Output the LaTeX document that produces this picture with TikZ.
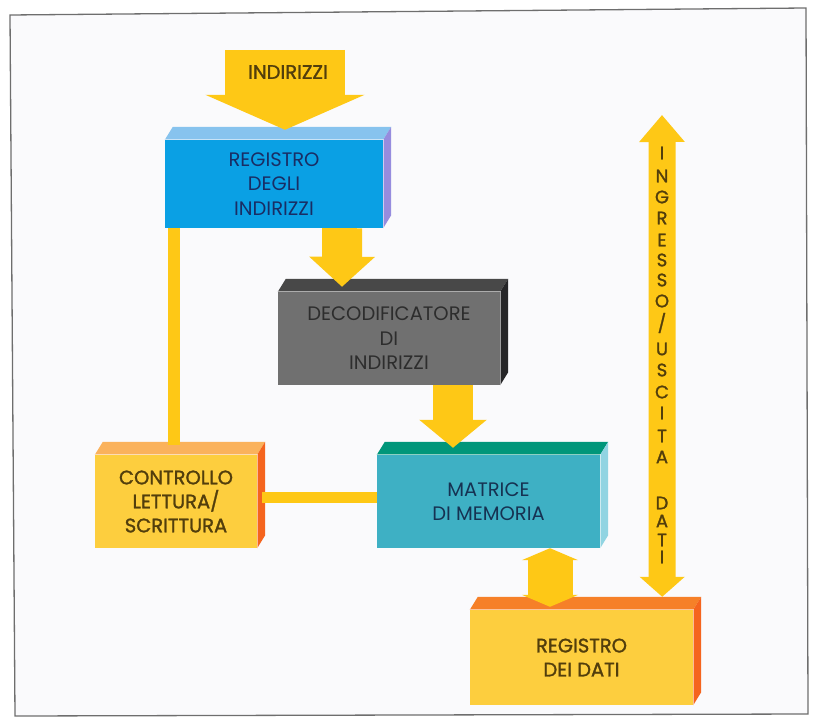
\documentclass[tikz,border=0pt]{standalone}
\usepackage{fontspec}
\setmainfont{Poppins}
\newfontfamily\heavyfont{Poppins}[FakeBold=1.4]
\usetikzlibrary{arrows.meta, calc}

\definecolor{paper}{RGB}{250,250,252}
\definecolor{framegray}{RGB}{110,110,110}
\definecolor{flowyellow}{RGB}{254,200,22}
\definecolor{regfront}{RGB}{10,160,228}
\definecolor{regtop}{RGB}{135,195,238}
\definecolor{regside}{RGB}{150,140,222}
\definecolor{regtext}{RGB}{25,45,100}
\definecolor{decfront}{RGB}{112,112,112}
\definecolor{dectop}{RGB}{72,72,72}
\definecolor{decside}{RGB}{38,38,40}
\definecolor{dectext}{RGB}{45,45,45}
\definecolor{matfront}{RGB}{62,176,196}
\definecolor{mattop}{RGB}{0,150,122}
\definecolor{matside}{RGB}{145,212,226}
\definecolor{mattext}{RGB}{22,50,82}
\definecolor{yelfront}{RGB}{253,206,62}
\definecolor{ctltop}{RGB}{250,178,92}
\definecolor{dattop}{RGB}{246,128,40}
\definecolor{redside}{RGB}{245,100,30}
\definecolor{yeltext}{RGB}{82,62,12}

\begin{document}
\begin{tikzpicture}[
      x=1pt, y=-1pt,
      blockface/.style={rectangle, inner sep=0pt, align=center, font=\fontsize{19.5}{24.5}\selectfont},
      regbox/.style={blockface, fill=regfront, text=regtext, minimum width=218pt, minimum height=88pt},
      decbox/.style={blockface, fill=decfront, text=dectext, minimum width=222pt, minimum height=93pt},
      matbox/.style={blockface, fill=matfront, text=mattext, minimum width=223pt, minimum height=93pt},
      yelbox/.style={blockface, fill=yelfront, text=yeltext, font=\heavyfont\fontsize{19.5}{24}\selectfont},
      flow/.style={draw=flowyellow, line cap=butt},
      letter/.style={text=yeltext, inner sep=0pt, font=\heavyfont\fontsize{18}{18}\selectfont}
  ]
      \useasboundingbox (0,0) rectangle (813,719);
      % Frame
      \filldraw[fill=paper, draw=framegray, line width=1.3pt] (10,15) -- (806,8) -- (808,714) -- (15,716) -- cycle;

      % Blocks
      \node[regbox] (reg) at (274,184) {REGISTRO\\DEGLI\\INDIRIZZI};
      \node[decbox] (dec) at (389,338.5) {DECODIFICATORE\\DI\\INDIRIZZI};
      \node[matbox] (mat) at (488.5,501.5) {MATRICE\\DI MEMORIA};
      \node[yelbox, minimum width=162pt, minimum height=93pt] (ctl) at (176,501.5) {CONTROLLO\\LETTURA/\\SCRITTURA};
      \node[yelbox, minimum width=223pt, minimum height=95pt] (dat) at (581.5,657.5) {REGISTRO\\DEI DATI};

      % Top and side faces
      \foreach \n/\t/\s in {reg/regtop/regside, dec/dectop/decside, mat/mattop/matside, ctl/ctltop/redside, dat/dattop/redside} {
        \fill[\t] (\n.north west) -- ++(8,-13) -- ($(\n.north east)+(8,-13)$) -- (\n.north east) -- cycle;
        \fill[\s] (\n.north east) -- ++(8,-13) -- ($(\n.south east)+(8,-13)$) -- (\n.south east) -- cycle;
        \draw[white, opacity=0.55, line width=1.2pt] (\n.north west) -- (\n.north east) -- (\n.south east);
      }

      % Address input
      \coordinate (addrin) at (285,50);
      \draw[flow, line width=120pt, -{Triangle[width=158pt, length=35pt]}] (addrin) -- ($(reg.north)+(11,-10)$);
      \node[text=yeltext, font=\heavyfont\fontsize{19.5}{19.5}\selectfont] (addrlabel) at (288,72) {INDIRIZZI};

      % Address path
      \draw[flow, line width=40pt, -{Triangle[width=64pt, length=30pt]}] ($(reg.south east)+(-41,0)$) -- ($(dec.north)+(-47,-5)$);
      \draw[flow, line width=40pt, -{Triangle[width=66pt, length=28pt]}] ($(dec.south)+(64,0)$) -- ($(mat.north)+(-35.5,-7)$);

      % Control lines
      \draw[flow, line width=12pt] ($(ctl.north west)+(79,-10)$) -- ($(reg.south west)+(9,0)$);
      \draw[flow, line width=11pt] ($(ctl.east)+(5,-4)$) -- ($(mat.west)+(0,-4)$);

      % Data path
      \draw[flow, line width=45pt, {Triangle[width=56pt, length=12pt]}-{Triangle[width=56pt, length=12pt]}] ($(mat.south)+(61.5,0)$) -- ($(dat.north)+(-31.5,-3)$);
      \coordinate (ioin) at (662,115);
      \draw[flow, line width=27pt, {Triangle[width=44pt, length=27pt]}-{Triangle[width=44pt, length=20pt]}] (ioin) -- ($(dat.north east)+(-31,-13)$);
      \foreach \ch/\yy [count=\i] in {I/153, N/176, G/197, R/218, E/240, S/260, S/280, O/301, {/}/323, U/349, S/370, C/392, I/413, T/436, A/457, D/503, A/521, T/540, I/557}
        \node[letter] (io\i) at (662,\yy) {\ch};

  \end{tikzpicture}
\end{document}
